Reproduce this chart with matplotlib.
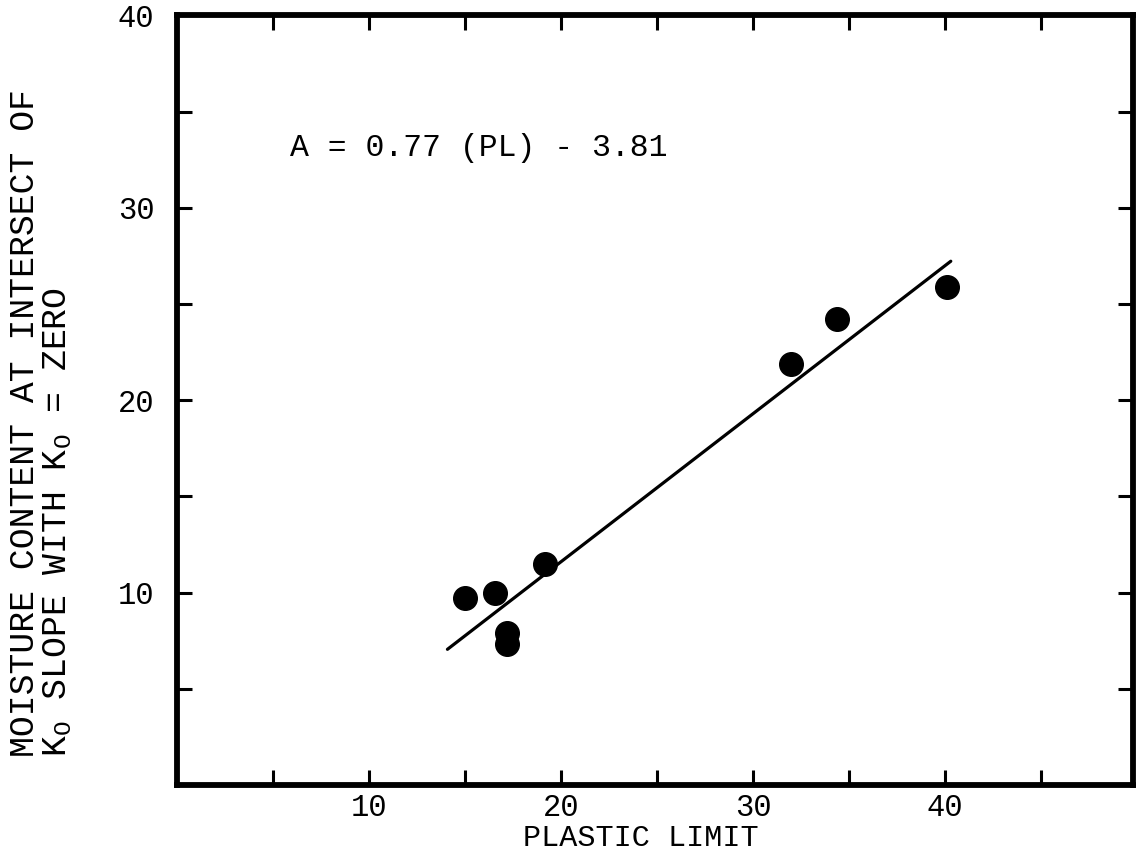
import numpy as np
import matplotlib
matplotlib.use("Agg")
from matplotlib import pyplot as plt

plt.rcParams["font.family"] = ["Liberation Mono", "DejaVu Sans Mono"]
plt.rcParams["mathtext.fontset"] = "custom"
plt.rcParams["mathtext.rm"] = "Liberation Mono"
plt.rcParams["mathtext.it"] = "Liberation Mono"

# plastic limit vs moisture content
plastic_limit = [15.0, 16.6, 17.2, 17.2, 19.2, 32.0, 34.4, 40.1]
moisture = [9.7, 10.0, 7.9, 7.3, 11.5, 21.9, 24.2, 25.9]

# fitted line A = 0.77 (PL) - 3.81
slope = 0.77
intercept = -3.81
fit_range = [14.1, 40.3]

x_ticks = [5, 10, 15, 20, 25, 30, 35, 40, 45]
x_tick_labels = ["", "10", "", "20", "", "30", "", "40", ""]
y_ticks = [5, 10, 15, 20, 25, 30, 35, 40]
y_tick_labels = ["", "10", "", "20", "", "30", "", "40"]

fig = plt.figure(figsize=(11.39, 8.55), dpi=100)
ax = fig.add_axes([0.155, 0.082, 0.84, 0.9])

ax.plot(plastic_limit, moisture, "o", color="black", markersize=17)
fx = np.array(fit_range)
ax.plot(fx, slope * fx + intercept, color="black", linewidth=2.3,
        solid_capstyle="round")

ax.set_xlim(0, 49.8)
ax.set_ylim(0, 40)
ax.set_xticks(x_ticks)
ax.set_xticklabels(x_tick_labels)
ax.set_yticks(y_ticks)
ax.set_yticklabels(y_tick_labels)
ax.tick_params(direction="in", length=11, width=2.2, labelsize=22,
               top=True, right=True)
ax.tick_params(axis="y", pad=16)
ax.tick_params(axis="x", pad=6)
for s in ax.spines.values():
    s.set_linewidth(4.2)

ax.text(5.9, 33.1, "A = 0.77 (PL) - 3.81", fontsize=22.7, va="center")

ax.text(0.485, -0.069, "PLASTIC LIMIT", transform=ax.transAxes,
        fontsize=21.7, ha="center", va="center")

ylab = ("MOISTURE CONTENT AT INTERSECT OF\n"
        r"K$_\mathrm{O}$ SLOPE WITH K$_\mathrm{O}$ = ZERO")
fig.text(0.036, 0.115, ylab, rotation=90, fontsize=25, ha="center",
         va="bottom", multialignment="left", linespacing=1.0)

fig.savefig("out.png", dpi=100)
